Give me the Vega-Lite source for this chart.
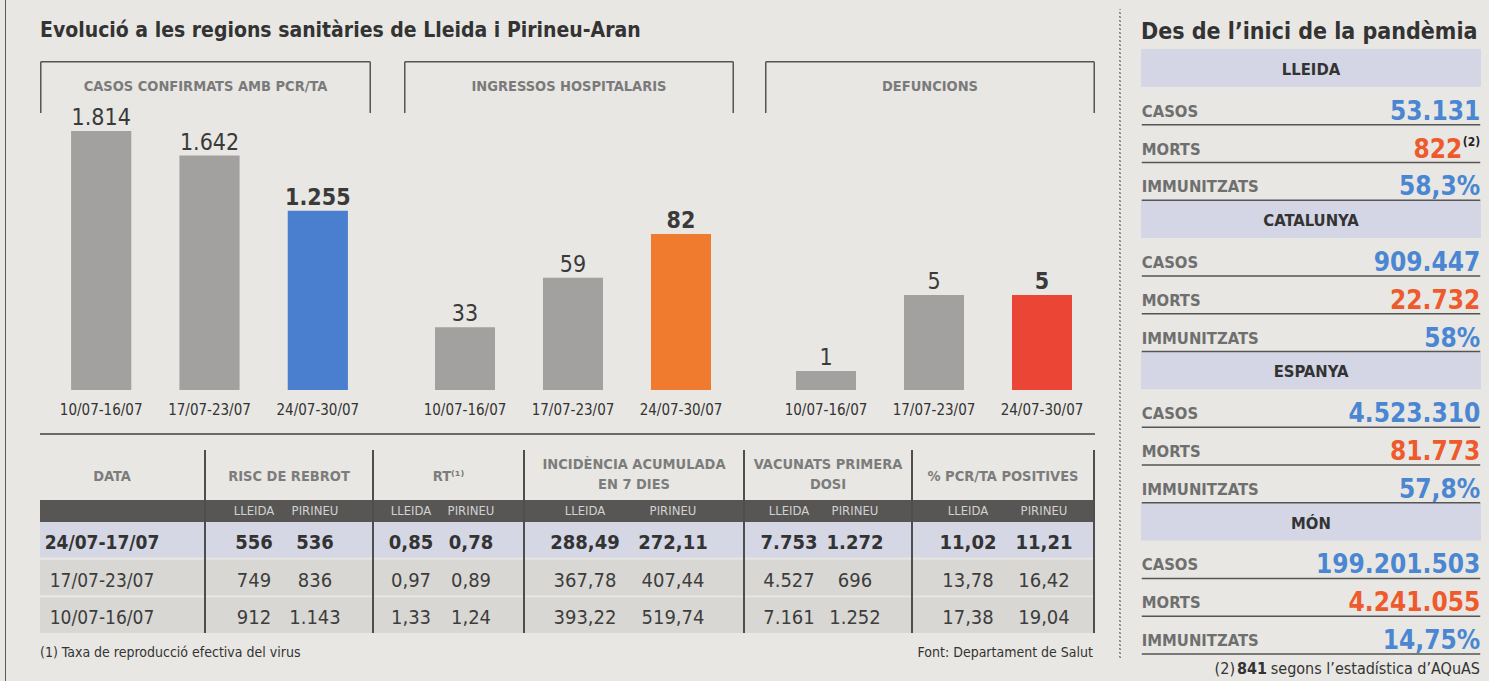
{
"$schema":"https://vega.github.io/schema/vega-lite/v6.json",
"background":"#e8e7e3",
"padding":{"left":5,"top":0,"right":9,"bottom":0},
"spacing":0,
"config":{"font":"DejaVu Sans Condensed, DejaVu Sans, sans-serif","view":{"stroke":null},"concat":{"spacing":0},
"locale":{"number":{"decimal":",","thousands":".","grouping":[3],"currency":["","\u00a0€"]}}},
"datasets":{
"bars":[
{"panel":"casos","week":"10/07-16/07","value":1814,"current":false},
{"panel":"casos","week":"17/07-23/07","value":1642,"current":false},
{"panel":"casos","week":"24/07-30/07","value":1255,"current":true},
{"panel":"ingressos","week":"10/07-16/07","value":33,"current":false},
{"panel":"ingressos","week":"17/07-23/07","value":59,"current":false},
{"panel":"ingressos","week":"24/07-30/07","value":82,"current":true},
{"panel":"defuncions","week":"10/07-16/07","value":1,"current":false},
{"panel":"defuncions","week":"17/07-23/07","value":5,"current":false},
{"panel":"defuncions","week":"24/07-30/07","value":5,"current":true}],
"table":[
{"date":"24/07-17/07","first":true,"group":"RISC","sub":"LLEIDA","value":"556"},
{"date":"24/07-17/07","first":true,"group":"RISC","sub":"PIRINEU","value":"536"},
{"date":"17/07-23/07","first":false,"group":"RISC","sub":"LLEIDA","value":"749"},
{"date":"17/07-23/07","first":false,"group":"RISC","sub":"PIRINEU","value":"836"},
{"date":"10/07-16/07","first":false,"group":"RISC","sub":"LLEIDA","value":"912"},
{"date":"10/07-16/07","first":false,"group":"RISC","sub":"PIRINEU","value":"1.143"},
{"date":"24/07-17/07","first":true,"group":"RT","sub":"LLEIDA","value":"0,85"},
{"date":"24/07-17/07","first":true,"group":"RT","sub":"PIRINEU","value":"0,78"},
{"date":"17/07-23/07","first":false,"group":"RT","sub":"LLEIDA","value":"0,97"},
{"date":"17/07-23/07","first":false,"group":"RT","sub":"PIRINEU","value":"0,89"},
{"date":"10/07-16/07","first":false,"group":"RT","sub":"LLEIDA","value":"1,33"},
{"date":"10/07-16/07","first":false,"group":"RT","sub":"PIRINEU","value":"1,24"},
{"date":"24/07-17/07","first":true,"group":"IA","sub":"LLEIDA","value":"288,49"},
{"date":"24/07-17/07","first":true,"group":"IA","sub":"PIRINEU","value":"272,11"},
{"date":"17/07-23/07","first":false,"group":"IA","sub":"LLEIDA","value":"367,78"},
{"date":"17/07-23/07","first":false,"group":"IA","sub":"PIRINEU","value":"407,44"},
{"date":"10/07-16/07","first":false,"group":"IA","sub":"LLEIDA","value":"393,22"},
{"date":"10/07-16/07","first":false,"group":"IA","sub":"PIRINEU","value":"519,74"},
{"date":"24/07-17/07","first":true,"group":"VAC","sub":"LLEIDA","value":"7.753"},
{"date":"24/07-17/07","first":true,"group":"VAC","sub":"PIRINEU","value":"1.272"},
{"date":"17/07-23/07","first":false,"group":"VAC","sub":"LLEIDA","value":"4.527"},
{"date":"17/07-23/07","first":false,"group":"VAC","sub":"PIRINEU","value":"696"},
{"date":"10/07-16/07","first":false,"group":"VAC","sub":"LLEIDA","value":"7.161"},
{"date":"10/07-16/07","first":false,"group":"VAC","sub":"PIRINEU","value":"1.252"},
{"date":"24/07-17/07","first":true,"group":"PCR","sub":"LLEIDA","value":"11,02"},
{"date":"24/07-17/07","first":true,"group":"PCR","sub":"PIRINEU","value":"11,21"},
{"date":"17/07-23/07","first":false,"group":"PCR","sub":"LLEIDA","value":"13,78"},
{"date":"17/07-23/07","first":false,"group":"PCR","sub":"PIRINEU","value":"16,42"},
{"date":"10/07-16/07","first":false,"group":"PCR","sub":"LLEIDA","value":"17,38"},
{"date":"10/07-16/07","first":false,"group":"PCR","sub":"PIRINEU","value":"19,04"}],
"side":[
{"key":"LLEIDA","region":"LLEIDA"},
{"key":"LLEIDA CASOS","region":"LLEIDA","metric":"CASOS","value":"53.131"},
{"key":"LLEIDA MORTS","region":"LLEIDA","metric":"MORTS","value":"822","sup":"(2)"},
{"key":"LLEIDA IMMUNITZATS","region":"LLEIDA","metric":"IMMUNITZATS","value":"58,3%"},
{"key":"CATALUNYA","region":"CATALUNYA"},
{"key":"CATALUNYA CASOS","region":"CATALUNYA","metric":"CASOS","value":"909.447"},
{"key":"CATALUNYA MORTS","region":"CATALUNYA","metric":"MORTS","value":"22.732"},
{"key":"CATALUNYA IMMUNITZATS","region":"CATALUNYA","metric":"IMMUNITZATS","value":"58%"},
{"key":"ESPANYA","region":"ESPANYA"},
{"key":"ESPANYA CASOS","region":"ESPANYA","metric":"CASOS","value":"4.523.310"},
{"key":"ESPANYA MORTS","region":"ESPANYA","metric":"MORTS","value":"81.773"},
{"key":"ESPANYA IMMUNITZATS","region":"ESPANYA","metric":"IMMUNITZATS","value":"57,8%"},
{"key":"MÓN","region":"MÓN"},
{"key":"MÓN CASOS","region":"MÓN","metric":"CASOS","value":"199.201.503"},
{"key":"MÓN MORTS","region":"MÓN","metric":"MORTS","value":"4.241.055"},
{"key":"MÓN IMMUNITZATS","region":"MÓN","metric":"IMMUNITZATS","value":"14,75%"}]
},
"hconcat":[
{"width":1,"height":681,"view":{"fill":"#5c5c5c"},"data":{"values":[]},"mark":"point","encoding":{}},
{"width":34,"height":1,"data":{"values":[]},"mark":"point","encoding":{}},
{"vconcat":[
 {"width":1055,"height":61,"data":{"values":[{"t":"Evolució a les regions sanitàries de Lleida i Pirineu-Aran","pos":"start"}]},
  "mark":{"type":"text","align":"left","baseline":"middle","fontSize":21,"fontWeight":"bold","color":"#333333"},
  "encoding":{"x":{"field":"pos","type":"nominal","scale":{"type":"point","domain":["start","end"],"padding":0},"axis":null},"text":{"field":"t"}}},
 {"hconcat":[
  {"width":331,"height":360,
   "layer":[
    {"data":{"values":[{"header":"CASOS CONFIRMATS AMB PCR/TA"}]},
     "encoding":{"x":{"datum":0.0023,"type":"quantitative","scale":{"domain":[0,1]},"axis":null},"y":{"datum":0.9979,"type":"quantitative","scale":{"domain":[0,1]},"axis":null}},
     "layer":[
      {"mark":{"type":"rule","color":"#555555","strokeWidth":1.5},"encoding":{"x2":{"datum":0.9977}}},
      {"mark":{"type":"rule","color":"#555555","strokeWidth":1.5},"encoding":{"y2":{"datum":0.8556}}},
      {"mark":{"type":"rule","color":"#555555","strokeWidth":1.5},"encoding":{"x":{"datum":0.9977,"type":"quantitative"},"y2":{"datum":0.8556}}},
      {"mark":{"type":"text","fontSize":14.5,"fontWeight":"bold","color":"#7a7a7a","baseline":"middle"},"encoding":{"x":{"datum":0.5,"type":"quantitative"},"y":{"datum":0.9278,"type":"quantitative"},"text":{"field":"header"}}}
     ]},
    {"data":{"name":"bars"},"transform":[{"filter":"datum.panel == 'casos'"}],
     "encoding":{
      "x":{"field":"week","type":"nominal","sort":null,"scale":{"paddingInner":0.4444,"paddingOuter":0.25,"align":0.574},"axis":null},
      "y":{"field":"value","type":"quantitative","scale":{"domain":[-217.1,2304],"nice":false,"zero":false},"axis":null}},
     "layer":[
      {"mark":{"type":"bar"},"encoding":{"y2":{"datum":0},"color":{"condition":{"test":"datum.current","value":"#4a7fcf"},"value":"#a3a19f"}}},
      {"transform":[{"filter":"!datum.current"}],"mark":{"type":"text","baseline":"alphabetic","dy":-6,"fontSize":23,"color":"#3a3a3a"},"encoding":{"text":{"field":"value","type":"quantitative","format":",d"}}},
      {"transform":[{"filter":"datum.current"}],"mark":{"type":"text","baseline":"alphabetic","dy":-6,"fontSize":23,"fontWeight":"bold","color":"#3a3a3a"},"encoding":{"text":{"field":"value","type":"quantitative","format":",d"}}},
      {"mark":{"type":"text","baseline":"top","dy":13,"fontSize":15,"color":"#333333"},"encoding":{"y":{"datum":0},"text":{"field":"week"}}}
     ]}
   ],
   "resolve":{"scale":{"x":"independent","y":"independent"}}},
  {"width":33,"height":1,"data":{"values":[]},"mark":"point","encoding":{}},
  {"width":330,"height":360,
   "layer":[
    {"data":{"values":[{"header":"INGRESSOS HOSPITALARIS"}]},
     "encoding":{"x":{"datum":0.0023,"type":"quantitative","scale":{"domain":[0,1]},"axis":null},"y":{"datum":0.9979,"type":"quantitative","scale":{"domain":[0,1]},"axis":null}},
     "layer":[
      {"mark":{"type":"rule","color":"#555555","strokeWidth":1.5},"encoding":{"x2":{"datum":0.9977}}},
      {"mark":{"type":"rule","color":"#555555","strokeWidth":1.5},"encoding":{"y2":{"datum":0.8556}}},
      {"mark":{"type":"rule","color":"#555555","strokeWidth":1.5},"encoding":{"x":{"datum":0.9977,"type":"quantitative"},"y2":{"datum":0.8556}}},
      {"mark":{"type":"text","fontSize":14.5,"fontWeight":"bold","color":"#7a7a7a","baseline":"middle"},"encoding":{"x":{"datum":0.5,"type":"quantitative"},"y":{"datum":0.9278,"type":"quantitative"},"text":{"field":"header"}}}
     ]},
    {"data":{"name":"bars"},"transform":[{"filter":"datum.panel == 'ingressos'"}],
     "encoding":{
      "x":{"field":"week","type":"nominal","sort":null,"scale":{"paddingInner":0.4444,"paddingOuter":0.25,"align":0.574},"axis":null},
      "y":{"field":"value","type":"quantitative","scale":{"domain":[-16.3,173],"nice":false,"zero":false},"axis":null}},
     "layer":[
      {"mark":{"type":"bar"},"encoding":{"y2":{"datum":0},"color":{"condition":{"test":"datum.current","value":"#f07a2e"},"value":"#a3a19f"}}},
      {"transform":[{"filter":"!datum.current"}],"mark":{"type":"text","baseline":"alphabetic","dy":-6,"fontSize":23,"color":"#3a3a3a"},"encoding":{"text":{"field":"value","type":"quantitative","format":",d"}}},
      {"transform":[{"filter":"datum.current"}],"mark":{"type":"text","baseline":"alphabetic","dy":-6,"fontSize":23,"fontWeight":"bold","color":"#3a3a3a"},"encoding":{"text":{"field":"value","type":"quantitative","format":",d"}}},
      {"mark":{"type":"text","baseline":"top","dy":13,"fontSize":15,"color":"#333333"},"encoding":{"y":{"datum":0},"text":{"field":"week"}}}
     ]}
   ],
   "resolve":{"scale":{"x":"independent","y":"independent"}}},
  {"width":31,"height":1,"data":{"values":[]},"mark":"point","encoding":{}},
  {"width":330,"height":360,
   "layer":[
    {"data":{"values":[{"header":"DEFUNCIONS"}]},
     "encoding":{"x":{"datum":0.0023,"type":"quantitative","scale":{"domain":[0,1]},"axis":null},"y":{"datum":0.9979,"type":"quantitative","scale":{"domain":[0,1]},"axis":null}},
     "layer":[
      {"mark":{"type":"rule","color":"#555555","strokeWidth":1.5},"encoding":{"x2":{"datum":0.9977}}},
      {"mark":{"type":"rule","color":"#555555","strokeWidth":1.5},"encoding":{"y2":{"datum":0.8556}}},
      {"mark":{"type":"rule","color":"#555555","strokeWidth":1.5},"encoding":{"x":{"datum":0.9977,"type":"quantitative"},"y2":{"datum":0.8556}}},
      {"mark":{"type":"text","fontSize":14.5,"fontWeight":"bold","color":"#7a7a7a","baseline":"middle"},"encoding":{"x":{"datum":0.5,"type":"quantitative"},"y":{"datum":0.9278,"type":"quantitative"},"text":{"field":"header"}}}
     ]},
    {"data":{"name":"bars"},"transform":[{"filter":"datum.panel == 'defuncions'"}],
     "encoding":{
      "x":{"field":"week","type":"nominal","sort":null,"scale":{"paddingInner":0.4444,"paddingOuter":0.25,"align":0.574},"axis":null},
      "y":{"field":"value","type":"quantitative","scale":{"domain":[-1.632,17.316],"nice":false,"zero":false},"axis":null}},
     "layer":[
      {"mark":{"type":"bar"},"encoding":{"y2":{"datum":0},"color":{"condition":{"test":"datum.current","value":"#ea4535"},"value":"#a3a19f"}}},
      {"transform":[{"filter":"!datum.current"}],"mark":{"type":"text","baseline":"alphabetic","dy":-6,"fontSize":23,"color":"#3a3a3a"},"encoding":{"text":{"field":"value","type":"quantitative","format":",d"}}},
      {"transform":[{"filter":"datum.current"}],"mark":{"type":"text","baseline":"alphabetic","dy":-6,"fontSize":23,"fontWeight":"bold","color":"#3a3a3a"},"encoding":{"text":{"field":"value","type":"quantitative","format":",d"}}},
      {"mark":{"type":"text","baseline":"top","dy":13,"fontSize":15,"color":"#333333"},"encoding":{"y":{"datum":0},"text":{"field":"week"}}}
     ]}
   ],
   "resolve":{"scale":{"x":"independent","y":"independent"}}}
 ],"spacing":0},
 {"width":1055,"height":12,"data":{"values":[]},"mark":"point","encoding":{}},
 {"width":1055,"height":2,"view":{"fill":"#6a6a6a"},"data":{"values":[]},"mark":"point","encoding":{}},
 {"width":1055,"height":15,"data":{"values":[]},"mark":"point","encoding":{}},
 {"hconcat":[
  {"vconcat":[
   {"width":164,"height":50,"data":{"values":[{"h":"DATA"}]},"mark":{"type":"text","fontSize":14.5,"fontWeight":"bold","color":"#7c7c7c","dx":-10,"dy":2},"encoding":{"text":{"field":"h"}}},
   {"width":164,"height":22,"view":{"fill":"#585654"},"data":{"values":[]},"mark":"point","encoding":{}},
   {"width":164,"height":111,"data":{"name":"table"},"transform":[{"filter":"datum.group == 'RISC' && datum.sub == 'LLEIDA'"}],
    "encoding":{"y":{"field":"date","type":"nominal","sort":null,"scale":{"paddingInner":0.06,"paddingOuter":0},"axis":null}},
    "layer":[
     {"mark":{"type":"rect"},"encoding":{"color":{"condition":{"test":"datum.first","value":"#d6d7e4"},"value":"#d8d7d3"}}},
     {"transform":[{"filter":"datum.first"}],"mark":{"type":"text","fontSize":19,"fontWeight":"bold","color":"#333333","dy":3,"dx":-20},"encoding":{"text":{"field":"date"}}},
     {"transform":[{"filter":"!datum.first"}],"mark":{"type":"text","fontSize":19,"color":"#3d3d3d","dy":3,"dx":-20},"encoding":{"text":{"field":"date"}}}
    ]}
  ],"spacing":0},
  {"width":2,"height":183,"view":{"fill":"#4e4e4e"},"data":{"values":[]},"mark":"point","encoding":{}},
  {"vconcat":[
   {"width":166,"height":50,"data":{"values":[{"h":"RISC DE REBROT"}]},"mark":{"type":"text","fontSize":14.5,"fontWeight":"bold","color":"#7c7c7c","dy":2},"encoding":{"text":{"field":"h"}}},
   {"width":166,"height":22,"view":{"fill":"#585654"},"data":{"name":"table"},"transform":[{"filter":"datum.group == 'RISC' && datum.first"}],"mark":{"type":"text","fontSize":13,"color":"#d2d2d2"},"encoding":{"x":{"field":"sub","type":"nominal","sort":null,"scale":{"type":"point","range":[48,109],"padding":0},"axis":null},"text":{"field":"sub"}}},
   {"width":166,"height":111,"data":{"name":"table"},"transform":[{"filter":"datum.group == 'RISC'"}],
    "encoding":{"y":{"field":"date","type":"nominal","sort":null,"scale":{"paddingInner":0.06,"paddingOuter":0},"axis":null}},
    "layer":[
     {"mark":{"type":"rect"},"encoding":{"color":{"condition":{"test":"datum.first","value":"#d6d7e4"},"value":"#d8d7d3"}}},
     {"transform":[{"filter":"datum.first"}],"mark":{"type":"text","fontSize":20,"fontWeight":"bold","color":"#333333","dy":3},"encoding":{"x":{"field":"sub","type":"nominal","sort":null,"scale":{"type":"point","range":[48,109],"padding":0},"axis":null},"text":{"field":"value"}}},
     {"transform":[{"filter":"!datum.first"}],"mark":{"type":"text","fontSize":20,"color":"#3d3d3d","dy":3},"encoding":{"x":{"field":"sub","type":"nominal","sort":null,"scale":{"type":"point","range":[48,109],"padding":0},"axis":null},"text":{"field":"value"}}}
    ]}
  ],"spacing":0},
  {"width":2,"height":183,"view":{"fill":"#4e4e4e"},"data":{"values":[]},"mark":"point","encoding":{}},
  {"vconcat":[
   {"width":149,"height":50,"data":{"values":[{"h":"RT⁽¹⁾"}]},"mark":{"type":"text","fontSize":14.5,"fontWeight":"bold","color":"#7c7c7c","dy":2},"encoding":{"text":{"field":"h"}}},
   {"width":149,"height":22,"view":{"fill":"#585654"},"data":{"name":"table"},"transform":[{"filter":"datum.group == 'RT' && datum.first"}],"mark":{"type":"text","fontSize":13,"color":"#d2d2d2"},"encoding":{"x":{"field":"sub","type":"nominal","sort":null,"scale":{"type":"point","range":[37,97],"padding":0},"axis":null},"text":{"field":"sub"}}},
   {"width":149,"height":111,"data":{"name":"table"},"transform":[{"filter":"datum.group == 'RT'"}],
    "encoding":{"y":{"field":"date","type":"nominal","sort":null,"scale":{"paddingInner":0.06,"paddingOuter":0},"axis":null}},
    "layer":[
     {"mark":{"type":"rect"},"encoding":{"color":{"condition":{"test":"datum.first","value":"#d6d7e4"},"value":"#d8d7d3"}}},
     {"transform":[{"filter":"datum.first"}],"mark":{"type":"text","fontSize":20,"fontWeight":"bold","color":"#333333","dy":3},"encoding":{"x":{"field":"sub","type":"nominal","sort":null,"scale":{"type":"point","range":[37,97],"padding":0},"axis":null},"text":{"field":"value"}}},
     {"transform":[{"filter":"!datum.first"}],"mark":{"type":"text","fontSize":20,"color":"#3d3d3d","dy":3},"encoding":{"x":{"field":"sub","type":"nominal","sort":null,"scale":{"type":"point","range":[37,97],"padding":0},"axis":null},"text":{"field":"value"}}}
    ]}
  ],"spacing":0},
  {"width":2,"height":183,"view":{"fill":"#4e4e4e"},"data":{"values":[]},"mark":"point","encoding":{}},
  {"vconcat":[
   {"width":218,"height":50,"data":{"values":[{"h":"INCIDÈNCIA ACUMULADA","line":"a"},{"h":"EN 7 DIES","line":"b"}]},"mark":{"type":"text","fontSize":14.5,"fontWeight":"bold","color":"#7c7c7c"},"encoding":{"y":{"field":"line","type":"nominal","scale":{"type":"point","range":[15,35],"padding":0},"axis":null},"text":{"field":"h"}}},
   {"width":218,"height":22,"view":{"fill":"#585654"},"data":{"name":"table"},"transform":[{"filter":"datum.group == 'IA' && datum.first"}],"mark":{"type":"text","fontSize":13,"color":"#d2d2d2"},"encoding":{"x":{"field":"sub","type":"nominal","sort":null,"scale":{"type":"point","range":[60,148],"padding":0},"axis":null},"text":{"field":"sub"}}},
   {"width":218,"height":111,"data":{"name":"table"},"transform":[{"filter":"datum.group == 'IA'"}],
    "encoding":{"y":{"field":"date","type":"nominal","sort":null,"scale":{"paddingInner":0.06,"paddingOuter":0},"axis":null}},
    "layer":[
     {"mark":{"type":"rect"},"encoding":{"color":{"condition":{"test":"datum.first","value":"#d6d7e4"},"value":"#d8d7d3"}}},
     {"transform":[{"filter":"datum.first"}],"mark":{"type":"text","fontSize":20,"fontWeight":"bold","color":"#333333","dy":3},"encoding":{"x":{"field":"sub","type":"nominal","sort":null,"scale":{"type":"point","range":[60,148],"padding":0},"axis":null},"text":{"field":"value"}}},
     {"transform":[{"filter":"!datum.first"}],"mark":{"type":"text","fontSize":20,"color":"#3d3d3d","dy":3},"encoding":{"x":{"field":"sub","type":"nominal","sort":null,"scale":{"type":"point","range":[60,148],"padding":0},"axis":null},"text":{"field":"value"}}}
    ]}
  ],"spacing":0},
  {"width":2,"height":183,"view":{"fill":"#4e4e4e"},"data":{"values":[]},"mark":"point","encoding":{}},
  {"vconcat":[
   {"width":166,"height":50,"data":{"values":[{"h":"VACUNATS PRIMERA","line":"a"},{"h":"DOSI","line":"b"}]},"mark":{"type":"text","fontSize":14.5,"fontWeight":"bold","color":"#7c7c7c"},"encoding":{"y":{"field":"line","type":"nominal","scale":{"type":"point","range":[15,35],"padding":0},"axis":null},"text":{"field":"h"}}},
   {"width":166,"height":22,"view":{"fill":"#585654"},"data":{"name":"table"},"transform":[{"filter":"datum.group == 'VAC' && datum.first"}],"mark":{"type":"text","fontSize":13,"color":"#d2d2d2"},"encoding":{"x":{"field":"sub","type":"nominal","sort":null,"scale":{"type":"point","range":[44,110],"padding":0},"axis":null},"text":{"field":"sub"}}},
   {"width":166,"height":111,"data":{"name":"table"},"transform":[{"filter":"datum.group == 'VAC'"}],
    "encoding":{"y":{"field":"date","type":"nominal","sort":null,"scale":{"paddingInner":0.06,"paddingOuter":0},"axis":null}},
    "layer":[
     {"mark":{"type":"rect"},"encoding":{"color":{"condition":{"test":"datum.first","value":"#d6d7e4"},"value":"#d8d7d3"}}},
     {"transform":[{"filter":"datum.first"}],"mark":{"type":"text","fontSize":20,"fontWeight":"bold","color":"#333333","dy":3},"encoding":{"x":{"field":"sub","type":"nominal","sort":null,"scale":{"type":"point","range":[44,110],"padding":0},"axis":null},"text":{"field":"value"}}},
     {"transform":[{"filter":"!datum.first"}],"mark":{"type":"text","fontSize":20,"color":"#3d3d3d","dy":3},"encoding":{"x":{"field":"sub","type":"nominal","sort":null,"scale":{"type":"point","range":[44,110],"padding":0},"axis":null},"text":{"field":"value"}}}
    ]}
  ],"spacing":0},
  {"width":2,"height":183,"view":{"fill":"#4e4e4e"},"data":{"values":[]},"mark":"point","encoding":{}},
  {"vconcat":[
   {"width":180,"height":50,"data":{"values":[{"h":"% PCR/TA POSITIVES"}]},"mark":{"type":"text","fontSize":14.5,"fontWeight":"bold","color":"#7c7c7c","dy":2},"encoding":{"text":{"field":"h"}}},
   {"width":180,"height":22,"view":{"fill":"#585654"},"data":{"name":"table"},"transform":[{"filter":"datum.group == 'PCR' && datum.first"}],"mark":{"type":"text","fontSize":13,"color":"#d2d2d2"},"encoding":{"x":{"field":"sub","type":"nominal","sort":null,"scale":{"type":"point","range":[55,131],"padding":0},"axis":null},"text":{"field":"sub"}}},
   {"width":180,"height":111,"data":{"name":"table"},"transform":[{"filter":"datum.group == 'PCR'"}],
    "encoding":{"y":{"field":"date","type":"nominal","sort":null,"scale":{"paddingInner":0.06,"paddingOuter":0},"axis":null}},
    "layer":[
     {"mark":{"type":"rect"},"encoding":{"color":{"condition":{"test":"datum.first","value":"#d6d7e4"},"value":"#d8d7d3"}}},
     {"transform":[{"filter":"datum.first"}],"mark":{"type":"text","fontSize":20,"fontWeight":"bold","color":"#333333","dy":3},"encoding":{"x":{"field":"sub","type":"nominal","sort":null,"scale":{"type":"point","range":[55,131],"padding":0},"axis":null},"text":{"field":"value"}}},
     {"transform":[{"filter":"!datum.first"}],"mark":{"type":"text","fontSize":20,"color":"#3d3d3d","dy":3},"encoding":{"x":{"field":"sub","type":"nominal","sort":null,"scale":{"type":"point","range":[55,131],"padding":0},"axis":null},"text":{"field":"value"}}}
    ]}
  ],"spacing":0},
  {"width":2,"height":183,"view":{"fill":"#4e4e4e"},"data":{"values":[]},"mark":"point","encoding":{}}
 ],"spacing":0},
 {"width":1055,"height":40,"data":{"values":[{"t":"(1) Taxa de reproducció efectiva del virus","pos":"start"},{"t":"Font: Departament de Salut","pos":"end"}]},
  "encoding":{"x":{"field":"pos","type":"nominal","scale":{"type":"point","domain":["start","end"],"padding":0},"axis":null},"text":{"field":"t"}},
  "layer":[
   {"transform":[{"filter":"datum.pos == 'start'"}],"mark":{"type":"text","align":"left","fontSize":14,"color":"#333333"}},
   {"transform":[{"filter":"datum.pos == 'end'"}],"mark":{"type":"text","align":"right","dx":-2,"fontSize":14,"color":"#333333"}}
  ]}
],"spacing":0},
{"width":23,"height":1,"data":{"values":[]},"mark":"point","encoding":{}},
{"vconcat":[
 {"width":1,"height":8,"data":{"values":[]},"mark":"point","encoding":{}},
 {"width":1,"height":649,"view":{"stroke":"#7a7a7a","strokeDash":[1.5,2.5],"strokeWidth":1},"data":{"values":[]},"mark":"point","encoding":{}}
],"spacing":0},
{"width":20,"height":1,"data":{"values":[]},"mark":"point","encoding":{}},
{"vconcat":[
 {"width":340,"height":49,"data":{"values":[{"t":"Des de l’inici de la pandèmia","pos":"start"}]},
  "mark":{"type":"text","align":"left","baseline":"middle","dy":7,"fontSize":23,"fontWeight":"bold","color":"#333333"},
  "encoding":{"x":{"field":"pos","type":"nominal","scale":{"type":"point","domain":["start","end"],"padding":0},"axis":null},"text":{"field":"t"}}},
 {"width":340,"height":605,"data":{"name":"side"},
  "encoding":{"y":{"field":"key","type":"nominal","sort":null,"scale":{"domain":["LLEIDA","LLEIDA CASOS","LLEIDA MORTS","LLEIDA IMMUNITZATS","CATALUNYA","CATALUNYA CASOS","CATALUNYA MORTS","CATALUNYA IMMUNITZATS","ESPANYA","ESPANYA CASOS","ESPANYA MORTS","ESPANYA IMMUNITZATS","MÓN","MÓN CASOS","MÓN MORTS","MÓN IMMUNITZATS"],"paddingInner":0,"paddingOuter":0},"axis":null}},
  "layer":[
   {"transform":[{"filter":"datum.metric == null"}],"mark":{"type":"rect","color":"#d4d6e6"}},
   {"transform":[{"filter":"datum.metric == null"}],"mark":{"type":"text","fontSize":16.5,"fontWeight":"bold","color":"#333333","dy":2},"encoding":{"text":{"field":"region"}}},
   {"transform":[{"filter":"datum.metric != null"}],"mark":{"type":"rule","color":"#555555","strokeWidth":1.5},
    "encoding":{"x":{"datum":"label","type":"nominal","scale":{"type":"point","domain":["label","value"],"padding":0.0023},"axis":null},"x2":{"datum":"value"},"y":{"field":"key","type":"nominal","sort":null,"bandPosition":1}}},
   {"transform":[{"filter":"datum.metric != null"}],"mark":{"type":"text","align":"left","dy":6,"fontSize":16.5,"fontWeight":"bold","color":"#6f6f6f"},
    "encoding":{"x":{"datum":"label","type":"nominal","scale":{"type":"point","domain":["label","value"],"padding":0.0023},"axis":null},"text":{"field":"metric"}}},
   {"transform":[{"filter":"datum.metric != null && datum.sup == null"}],"mark":{"type":"text","align":"right","dy":6,"fontSize":26,"fontWeight":"bold"},
    "encoding":{"x":{"datum":"value","type":"nominal","scale":{"type":"point","domain":["label","value"],"padding":0.0023},"axis":null},"text":{"field":"value"},
     "color":{"condition":{"test":"datum.metric == 'MORTS'","value":"#ee5a2c"},"value":"#4a86d2"}}},
   {"transform":[{"filter":"datum.sup != null"}],"mark":{"type":"text","align":"right","dy":6,"dx":-18,"fontSize":26,"fontWeight":"bold","color":"#ee5a2c"},
    "encoding":{"x":{"datum":"value","type":"nominal","scale":{"type":"point","domain":["label","value"],"padding":0.0023},"axis":null},"text":{"field":"value"}}},
   {"transform":[{"filter":"datum.sup != null"}],"mark":{"type":"text","align":"right","dy":-2,"fontSize":12,"fontWeight":"bold","color":"#222222"},
    "encoding":{"x":{"datum":"value","type":"nominal","scale":{"type":"point","domain":["label","value"],"padding":0.0023},"axis":null},"text":{"field":"sup"}}}
  ]},
 {"width":340,"height":27,"data":{"values":[{"a":"(2)","b":"841","c":"segons l’estadística d’AQuAS","pos":"end"}]},
  "encoding":{"x":{"field":"pos","type":"nominal","scale":{"type":"point","domain":["start","end"],"padding":0},"axis":null}},
  "layer":[
   {"mark":{"type":"text","align":"right","dx":-1,"fontSize":16,"color":"#333333"},"encoding":{"text":{"field":"c"}}},
   {"mark":{"type":"text","align":"right","dx":-214,"fontSize":16,"fontWeight":"bold","color":"#333333"},"encoding":{"text":{"field":"b"}}},
   {"mark":{"type":"text","align":"right","dx":-246,"fontSize":16,"color":"#333333"},"encoding":{"text":{"field":"a"}}}
  ]}
],"spacing":0}
]
}
